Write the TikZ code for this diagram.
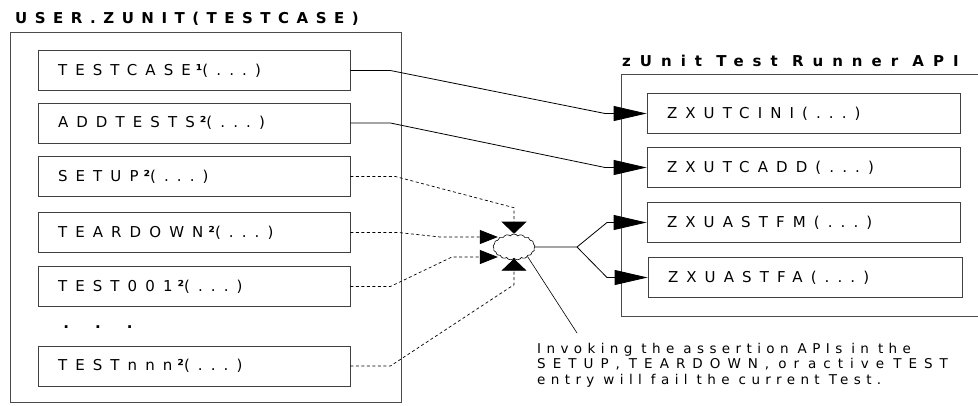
\documentclass[tikz,border=0pt]{standalone}
\usepackage{fontspec}
\setmainfont{DejaVu Sans}
\newfontfamily\spaced[LetterSpace=54]{DejaVu Sans}
\newfontfamily\spacednote[LetterSpace=40]{DejaVu Sans}
\newfontfamily\spacedcaps[LetterSpace=52]{DejaVu Sans}
\newfontfamily\spacedhead[LetterSpace=50]{DejaVu Sans}
\newfontfamily\apihead[LetterSpace=60]{DejaVu Sans}
\newcommand{\supmark}[1]{\kern5pt{\bfseries #1}}
\newcommand{\gap}{\hspace{9pt}}
\usetikzlibrary{arrows.meta,shapes.symbols}

\begin{document}
\begin{tikzpicture}[x=1pt,y=-1pt,>=Latex,
    grp/.style={draw=black!70,line width=0.8pt},
    grptitle/.style={anchor=west,inner sep=0pt,font=\spacedhead\bfseries\fontsize{15}{17}\selectfont},
    fnbox/.style={draw=black!75,line width=0.8pt,minimum height=40pt,text width=272pt,
      inner xsep=20pt,align=left,font=\spaced\fontsize{15}{17}\selectfont},
    call/.style={line width=0.8pt,-{Triangle[length=33pt,width=15pt]}},
    hook/.style={line width=0.7pt,dash pattern=on 3pt off 2.5pt},
    vtip/.style={-{Triangle[length=12pt,width=25pt]}},
    htip/.style={-{Triangle[length=18pt,width=14pt]}}]
  \useasboundingbox (0,0) rectangle (978,405);

  % the test case module
  \node[grptitle] (modtitle) at (15,19) {USER.ZUNIT(TESTCASE)};
  \draw[grp] (10,32) rectangle (401,402);
  \node[fnbox] (tcase) at (194,70.5) {TESTCASE\supmark{¹}(...)};
  \node[fnbox] (addt) at (194,123) {ADDTESTS\supmark{²}(...)};
  \node[fnbox] (setup) at (194,176.5) {SETUP\supmark{²}(...)};
  \node[fnbox] (tdown) at (194,232.5) {TEARDOWN\supmark{²}(...)};
  \node[fnbox] (t001) at (194,286.5) {TEST001\supmark{²}(...)};
  \node[font=\bfseries\fontsize{15}{17}\selectfont,inner sep=0pt] (more) at (98,327)
    {.\hspace{26pt}.\hspace{26pt}.};
  \node[fnbox] (tnnn) at (194,366) {TESTnnn\supmark{²}(...)};

  % the runner API
  \node[grptitle,font=\apihead\bfseries\fontsize{15}{17}\selectfont] (apititle) at (622,61)
    {zUnit Test Runner API};
  \draw[grp] (978,74) -| (621,316) -- (978,316);
  \node[fnbox,text width=273pt] (tcini) at (803.5,113.5) {ZXUTCINI(...)};
  \node[fnbox,text width=273pt] (tcadd) at (803.5,167.5) {ZXUTCADD(...)};
  \node[fnbox,text width=273pt] (astfm) at (803.5,222.5) {ZXUASTFM(...)};
  \node[fnbox,text width=274pt] (astfa) at (805,277.5) {ZXUASTFA(...)};

  % assertion hub
  \node[draw,cloud,cloud puffs=17,cloud puff arc=110,aspect=1.6,line width=0.6pt,
    minimum width=42pt,minimum height=26pt,inner sep=0pt] (hub) at (514,247) {};
  \coordinate (fork) at (577,247);

  \draw[call] (tcase.east) -- ++(40,0) -- (605,113.5) -- (tcini.west);
  \draw[call] (addt.east) -- ++(40,0) -- (605,167.5) -- (tcadd.west);

  \draw[hook,vtip] (setup.east) -- ++(45,0) -- ([yshift=26pt]hub.north) -- (hub.north);
  \draw[hook,htip] (tdown.east) -- ++(48,0) -- (440,237) -- ([xshift=5pt,yshift=10pt]hub.west);
  \draw[hook,htip] (t001.east) -- ++(40,0) -- (452,257) -- ([xshift=5pt,yshift=-10pt]hub.west);
  \draw[hook,vtip] (tnnn.east) -- ++(40,0) -- ([yshift=-26pt]hub.south) -- (hub.south);

  \draw[line width=0.8pt] (hub.east) -- (fork);
  \draw[call] (fork) -- (607,222.5) -- (astfm.west);
  \draw[call] (fork) -- (607,277.5) -- (astfa.west);

  % note
  \coordinate (noteptr) at (577,333);
  \draw[line width=0.6pt] (hub.-35) -- (noteptr);
  \node[anchor=north west,inner sep=0pt,align=left,
    font=\spacednote\fontsize{13.5}{15.5}\selectfont]
    (note) at (537,343)
    {Invoking\gap the\gap assertion\gap APIs\gap in\gap the\\
     {\spacedcaps SETUP,\gap TEARDOWN,\gap or\gap active\gap TEST}\\
     entry\gap will\gap fail\gap the\gap current\gap Test.};
\end{tikzpicture}
\end{document}
